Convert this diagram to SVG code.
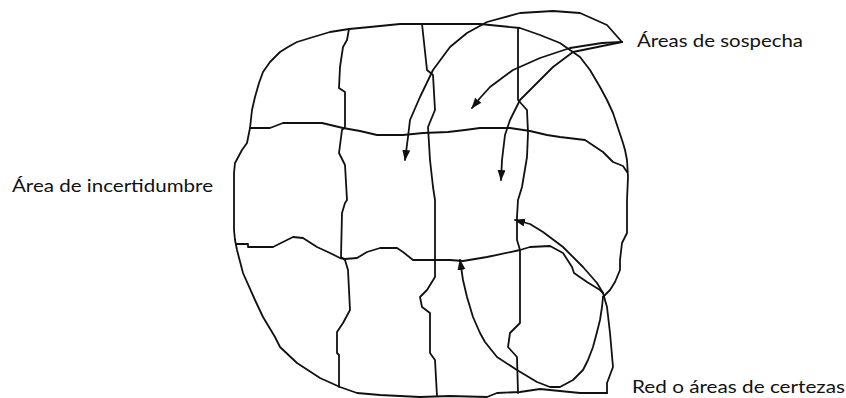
<svg xmlns="http://www.w3.org/2000/svg" width="846" height="398" viewBox="0 0 846 398">
<style>
.ln{fill:none;stroke:#111;stroke-width:1.8;stroke-linejoin:round;stroke-linecap:round}
.lbl{font-family:Lato,"Open Sans","Liberation Sans",sans-serif;font-size:17px;fill:#111}
</style>
<defs>
<marker id="ah" markerUnits="userSpaceOnUse" markerWidth="12" markerHeight="9" refX="10" refY="4" orient="auto">
<path d="M0,0 L11,4 L0,8 Z" fill="#111"/>
</marker>
</defs>
<rect width="846" height="398" fill="#fff"/>
<g id="map">
<polyline id="outline" class="ln" points="250,128 252,110 255,97 259,83 263,72 270,62 280,52 288,47 297,42 310,38 330,32 349,29 370,27 400,24 422,24 450,24 480,24 500,26 520,28 540,35 560,43 580,57 590,70 600,87 607,100 613,113 618,128 623,143 625,150 627,160 628,177 627,200 627,233 622,243 620,260 620,270 615,282 610,290 603,297"/>
<polyline id="outline-bottom" class="ln" points="607,393 580,393 560,391 540,389 520,392 497,393 487,397 450,396 420,397 380,395 357,393 340,387 320,378 297,363 280,347 275,337 263,317 255,300 243,273 237,250 235,240 234,230 234,173 235,163 242,150 247,143 250,128"/>
<polyline id="h1" class="ln" points="250,128 270,128 283,123 322,123 343,128 360,131 377,135 403,135 423,133 448,132 465,130 480,128 510,128 530,131 547,135 560,137 585,140 603,152 613,162 623,166 627,172"/>
<polyline id="h2" class="ln" points="236,244 248,244 248,247 273,247 283,242 293,237 303,238 317,247 330,253 340,258 345,259 357,258 367,252 380,248 397,248 403,252 413,260 450,260 463,261 487,257 520,250 530,247 550,246 563,253 572,267 574,273 587,282 600,290 603,293"/>
<polyline id="v1" class="ln" points="349,29 347,40 343,47 340,67 339,88 345,92 345,127 342,130 339,153 345,165 347,200 345,203 342,213 341,257 345,260 348,270 350,310 343,323 337,332 337,353 339,355 339,387"/>
<polyline id="v2" class="ln" points="422,24 423,33 427,70 433,75 435,110 428,127 430,160 433,187 435,200 435,277 427,290 420,297 422,307 430,313 430,353 435,360 437,396"/>
<polyline id="v3" class="ln" points="518,28 518,100 527,110 528,133 527,157 522,187 518,200 517,217 517,240 520,250 520,323 510,333 508,347 517,357 518,393"/>
</g>
<g id="connectors">
<polyline id="a1" class="ln" marker-end="url(#ah)" points="622,42 607,25 580,13 553,11 520,13 487,22 467,33 450,47 433,70 420,97 410,120 408,137 405,160"/>
<polyline id="a2" class="ln" marker-end="url(#ah)" points="622,42 602,43 570,48 540,58 513,70 490,87 480,98 472,108"/>
<polyline id="a3" class="ln" marker-end="url(#ah)" points="622,42 573,52 553,67 533,87 520,100 510,120 505,135 502,160 501,180"/>
<polyline id="a4" class="ln" marker-end="url(#ah)" points="607,393 607,383 613,367 610,333 607,307 603,293 597,283 583,267 563,247 543,232 530,224 515,220"/>
<polyline id="a5" class="ln" marker-end="url(#ah)" points="603,297 602,307 600,320 597,332 593,347 588,360 583,370 573,380 560,387 550,387 537,382 517,370 497,357 485,342 480,333 473,317 467,297 463,280 460,260"/>
</g>
<g id="labels">
<text class="lbl" x="637" y="47" textLength="166" lengthAdjust="spacingAndGlyphs">Áreas de sospecha</text>
<text class="lbl" x="12" y="192" textLength="201" lengthAdjust="spacingAndGlyphs">Área de incertidumbre</text>
<text class="lbl" x="632" y="393" textLength="213" lengthAdjust="spacingAndGlyphs">Red o áreas de certezas</text>
</g>
</svg>
